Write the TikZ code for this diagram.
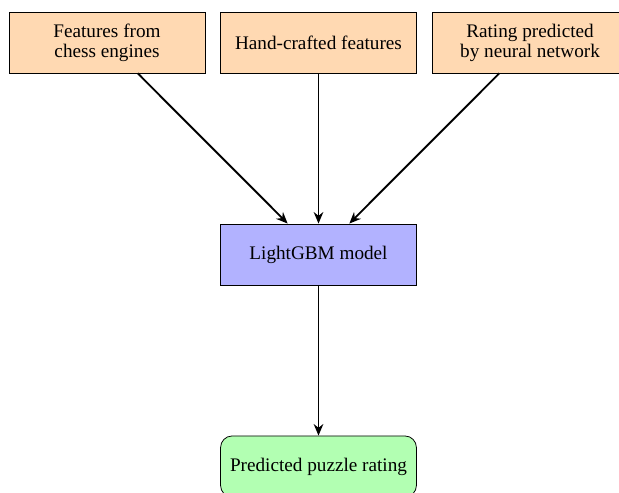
\documentclass[tikz,border=0pt]{standalone}
\usepackage{fontspec}
\setmainfont{Liberation Serif}
\usetikzlibrary{arrows.meta}
\begin{document}
\begin{tikzpicture}[x=0.5208pt,y=-0.5208pt,
  box/.style={draw, minimum width=102pt, minimum height=31.8pt, align=center, inner sep=2pt, font=\fontsize{10}{10.5}\selectfont},
  feat/.style={box, fill=orange!30},
  modelbox/.style={box, fill=blue!30},
  resultbox/.style={box, fill=green!30, rounded corners=6pt},
  arr/.style={-{Stealth[length=6pt,width=5pt]}, line width=1pt}]
\useasboundingbox (0,0) rectangle (619,493);
\node[feat] (a) at (107,42.5) {Features from\\chess engines};
\node[feat] (b) at (318.5,42.5) {Hand-crafted features};
\node[feat] (c) at (530,42.5) {Rating predicted\\by neural network};
\node[modelbox] (m) at (318.5,254.5) {LightGBM model};
\node[resultbox] (o) at (318.5,466.5) {Predicted puzzle rating};
\draw[arr] (a) -- (m);
\draw[arr] (b) -- (m);
\draw[arr] (c) -- (m);
\draw[arr] (m) -- (o);
\end{tikzpicture}
\end{document}
